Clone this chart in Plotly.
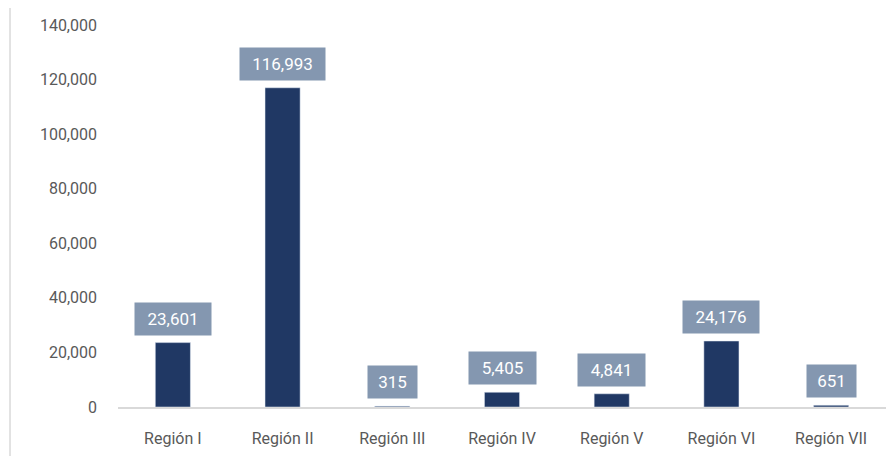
import plotly.graph_objects as go

regiones = ["Región I", "Región II", "Región III", "Región IV", "Región V", "Región VI", "Región VII"]
valores = [23601, 116993, 315, 5405, 4841, 24176, 651]
ticks_y = [0, 20000, 40000, 60000, 80000, 100000, 120000, 140000]

azul = "#203864"
caja = "#8497B0"
gris = "#595959"
fuente = "Roboto"

fig = go.Figure(go.Bar(x=regiones, y=valores, marker_color=azul, width=0.32))

# etiquetas con fondo
for r, v in zip(regiones, valores):
    fig.add_annotation(
        x=r, y=v, text=f"{v:,}", showarrow=False,
        yanchor="bottom", yshift=7,
        bgcolor=caja, borderpad=6, width=len(f"{v:,}") * 9 + 10,
        font=dict(family=fuente, size=17, color="white"),
    )

# linea gris a la izquierda
fig.add_shape(type="line", xref="paper", yref="paper", x0=-0.1406, x1=-0.1406, y0=-0.2, y1=1.2,
              line=dict(color="#D9D9D9", width=1.5))

fig.update_layout(
    width=886, height=448,
    margin=dict(l=110, r=8, t=14, b=48),
    plot_bgcolor="white", paper_bgcolor="white",
    showlegend=False,
    font=dict(family=fuente, size=15, color=gris),
    xaxis=dict(showline=True, linecolor="#D9D9D9", linewidth=1.5, ticks="",
               tickfont=dict(size=16, color=gris), ticklabelstandoff=16),
    yaxis=dict(range=[0, 140000], tickvals=ticks_y, tickformat=",", showgrid=False,
               zeroline=False, showline=False, ticklabelstandoff=20,
               tickfont=dict(size=16, color=gris)),
)

fig.write_html("out.html")
